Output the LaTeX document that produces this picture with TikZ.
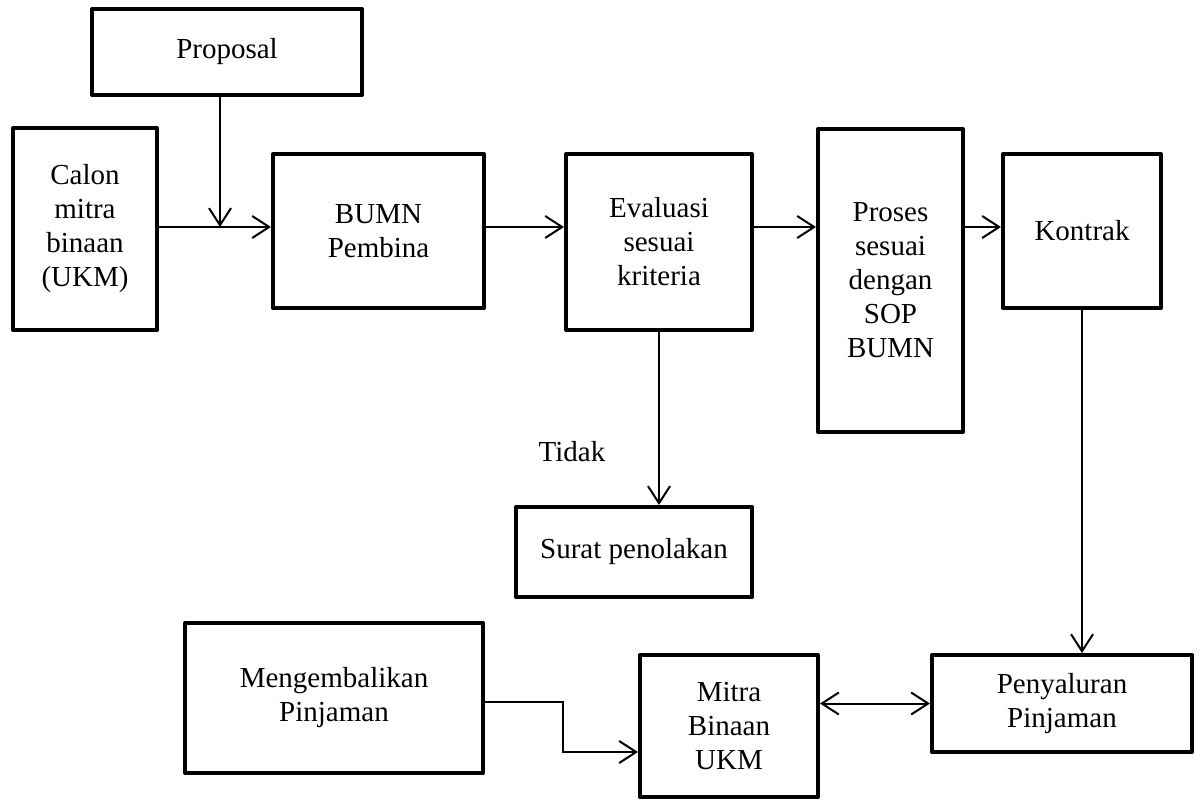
\documentclass[tikz,border=0pt]{standalone}
\usepackage{fontspec}
\setmainfont{Liberation Serif}
\usetikzlibrary{arrows.meta}
\begin{document}
\begin{tikzpicture}[x=1pt,y=-1pt,
  box/.style={draw, line width=4pt, line join=round, inner sep=0pt, align=center, font=\fontsize{29}{34}\selectfont},
  tip/.tip={Straight Barb[length=17pt,width=22pt,line width=2pt]},
  conn/.style={line width=2pt, -tip},
  conntwo/.style={line width=2pt, tip-tip},
  lbl/.style={font=\fontsize{29}{34}\selectfont, inner sep=0pt}]
\useasboundingbox (0,0) rectangle (1201,800);
\node[box, minimum width=270pt, minimum height=86pt] (prop) at (227,52) {Proposal};
\node[box, minimum width=144pt, minimum height=202pt] (calon) at (85,229) {Calon\\mitra\\binaan\\(UKM)};
\node[box, minimum width=211pt, minimum height=154pt] (bumn) at (378.5,231) {BUMN\\Pembina};
\node[box, minimum width=186pt, minimum height=176pt] (eval) at (659,242) {Evaluasi\\sesuai\\kriteria};
\node[box, minimum width=145pt, minimum height=303pt] (proses) at (890.5,280.5) {Proses\\sesuai\\dengan\\SOP\\BUMN};
\node[box, minimum width=158pt, minimum height=154pt] (kontrak) at (1082,231) {Kontrak};
\node[box, minimum width=236pt, minimum height=90pt] (surat) at (634,552) {Surat penolakan};
\node[box, minimum width=298pt, minimum height=150pt] (meng) at (334,698) {Mengembalikan\\Pinjaman};
\node[box, minimum width=178pt, minimum height=142pt] (mitra) at (729,726) {Mitra\\Binaan\\UKM};
\node[box, minimum width=260pt, minimum height=97pt] (peny) at (1062,703.5) {Penyaluran\\Pinjaman};
\node[lbl] (tidak) at (572,452) {Tidak};
\coordinate (j) at (220,227);
\coordinate (b1) at (563,702);
\coordinate (b2) at (563,752);
\draw[conn] (calon.east |- j) -- (bumn.west |- j);
\draw[conn] (prop.south -| j) -- (j);
\draw[conn] (bumn.east |- j) -- (eval.west |- j);
\draw[conn] (eval.east |- j) -- (proses.west |- j);
\draw[conn] (proses.east |- j) -- (kontrak.west |- j);
\draw[conn] (eval.south) -- (eval.south |- surat.north);
\draw[conn] (kontrak.south) -- (kontrak.south |- peny.north);
\draw[conntwo] (mitra.east |- peny.west) -- (peny.west);
\draw[conn] (meng.east |- b1) -- (b1) -- (b2) -- (b2 -| mitra.west);
\end{tikzpicture}
\end{document}
